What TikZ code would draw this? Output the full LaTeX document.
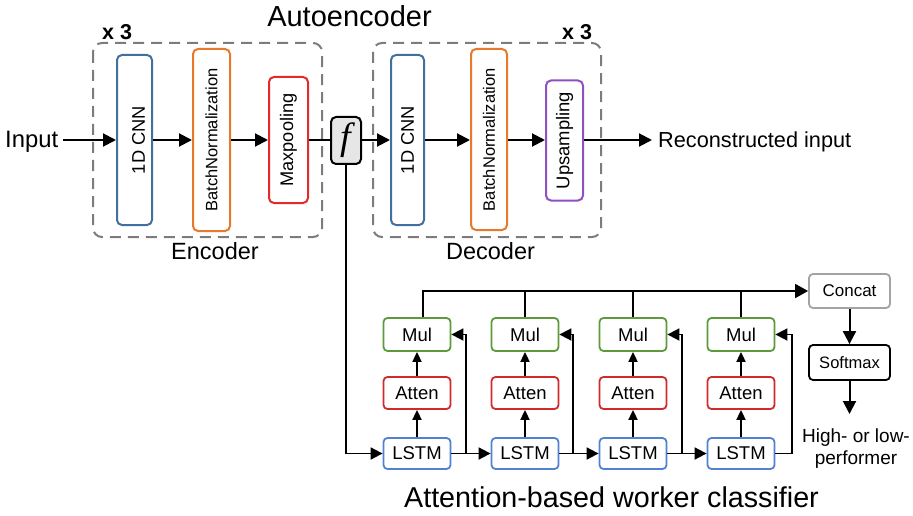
\documentclass[tikz,border=0pt]{standalone}
\usepackage{fontspec}
\setmainfont{Liberation Sans}
\newfontfamily\fnserif{Liberation Serif}
\usepackage{graphicx}
\usetikzlibrary{arrows.meta,calc}

\definecolor{cnnblue}{HTML}{41709F}
\definecolor{bnorange}{HTML}{E8792B}
\definecolor{mpred}{HTML}{E52A2C}
\definecolor{uppurple}{HTML}{9150C2}
\definecolor{mulgreen}{HTML}{5C9A3C}
\definecolor{attred}{HTML}{CF2B2B}
\definecolor{lstmblue}{HTML}{5282CF}
\definecolor{concatgray}{HTML}{A3A3A3}
\definecolor{dashgray}{HTML}{7C7C7C}
\definecolor{fgray}{HTML}{E6E6E6}

\newcommand{\fs}[1]{\fontsize{#1}{#1}\selectfont}

\begin{document}
\begin{tikzpicture}[x=1pt,y=-1pt,
  layer/.style={draw, line width=2pt, rounded corners=5pt, inner sep=0pt, fill=white},
  cell/.style={draw, line width=1.8pt, rounded corners=4pt, minimum width=67pt,
    inner sep=0pt, fill=white, font=\fs{18.5}},
  arr/.style={line width=2pt, -{Triangle[length=13pt,width=13pt]}},
  harr/.style={line width=1.8pt, -{Triangle[length=12pt,width=12pt]}},
  varr/.style={line width=1.8pt, -{Triangle[length=10pt,width=9pt]}},
  wire/.style={line width=1.8pt},
  group/.style={draw=dashgray, line width=2pt, dash pattern=on 11pt off 7pt, rounded corners=9pt},
  lbl/.style={inner sep=0pt, anchor=base}
]
\useasboundingbox (0,0) rectangle (913,516);

% ---------- autoencoder ----------
\node[lbl, font=\fs{29}] (title) at (349.5,27) {Autoencoder};

\draw[group] (93,43) rectangle (322,237);
\draw[group] (373,43) rectangle (601,237);
\node[lbl, anchor=base west, font=\fs{21.5}\bfseries] (rep1) at (102,40) {x 3};
\node[lbl, anchor=base west, font=\fs{21.5}\bfseries] (rep2) at (562,40) {x 3};
\node[lbl, font=\fs{23.5}] (enc) at (215,259) {Encoder};
\node[lbl, font=\fs{23.5}] (dec) at (490.5,259) {Decoder};

\node[layer, draw=cnnblue, minimum width=35pt, minimum height=170pt] (cnn1) at (134.5,140)
  {\hspace*{8pt}\rotatebox{90}{\fs{18.3}1D CNN}};
\node[layer, draw=bnorange, minimum width=37pt, minimum height=182pt] (bn1) at (211.5,140)
  {\rotatebox{90}{\fs{16.5}BatchNormalization}};
\node[layer, draw=mpred, minimum width=39pt, minimum height=126pt] (mp1) at (288.5,140)
  {\rotatebox{90}{\fs{18.2}Maxpooling}};
\node[layer, draw=black, fill=fgray, minimum width=30pt, minimum height=47pt] (f) at (346,140.5)
  {\fnserif\itshape\fs{38}f};
\node[layer, draw=cnnblue, minimum width=33pt, minimum height=170pt] (cnn2) at (407.5,140)
  {\rotatebox{90}{\fs{18.3}1D CNN}};
\node[layer, draw=bnorange, minimum width=36pt, minimum height=181pt] (bn2) at (489,139.5)
  {\rotatebox{90}{\fs{16.5}BatchNormalization}};
\node[layer, draw=uppurple, minimum width=37pt, minimum height=120pt] (up) at (564.5,140.5)
  {\rotatebox{90}{\fs{18.4}Upsampling}};

\node[lbl, anchor=base west, font=\fs{23.8}] (input) at (5,148) {Input};
\node[lbl, anchor=base west, font=\fs{21.7}] (recon) at (658,148) {Reconstructed input};
\coordinate (instart) at (63,140);
\coordinate (outend) at (652,140);

\draw[arr] (instart) -- (cnn1.west |- instart);
\draw[arr] (cnn1.east |- instart) -- (bn1.west |- instart);
\draw[arr] (bn1.east |- instart) -- (mp1.west |- instart);
\draw[wire] (mp1.east |- instart) -- (f.west |- instart);
\draw[arr] (f.east |- instart) -- (cnn2.west |- instart);
\draw[arr] (cnn2.east |- instart) -- (bn2.west |- instart);
\draw[arr] (bn2.east |- instart) -- (up.west |- instart);
\draw[arr] (up.east |- outend) -- (outend);

% ---------- attention-based classifier ----------
\foreach \i/\x in {1/417,2/525,3/633,4/741}{
  \node[cell, draw=lstmblue, minimum height=31pt] (lstm\i) at (\x,453.5) {LSTM};
  \node[cell, draw=attred, minimum height=32pt] (atten\i) at (\x,393) {Atten};
  \node[cell, draw=mulgreen, minimum height=33pt] (mul\i) at (\x,334.5) {Mul};
  \draw[varr] (lstm\i.north) -- (atten\i.south);
  \draw[varr] (atten\i.north) -- (mul\i.south);
}

\node[cell, draw=concatgray, minimum width=81pt, minimum height=34pt, font=\fs{17}] (concat) at (849.5,291) {Concat};
\node[cell, draw=black, minimum width=81pt, minimum height=35pt, font=\fs{16.5}] (softmax) at (849.5,362.5) {Softmax};
\node[inner sep=0pt, anchor=north, align=center, font=\fontsize{19}{22}\selectfont] (result) at (856,429)
  {High- or low-\\performer};
\node[lbl, font=\fs{28.7}] (clsname) at (611.5,507) {Attention-based worker classifier};

% encoder code feeds the first LSTM
\draw[harr] (f.south) |- (lstm1.west);

% recurrent chain and skip into Mul
\coordinate (j1) at (466,453.5);
\coordinate (j2) at (573,453.5);
\coordinate (j3) at (682,453.5);
\coordinate (j4) at (792,453.5);
\draw[harr] (lstm1.east) -- (lstm2.west);
\draw[harr] (lstm2.east) -- (lstm3.west);
\draw[harr] (lstm3.east) -- (lstm4.west);
\draw[harr] (j1) |- (mul1.east);
\draw[harr] (j2) |- (mul2.east);
\draw[harr] (j3) |- (mul3.east);
\draw[harr] (lstm4.east) -- (j4) |- (mul4.east);

% weighted outputs gathered into Concat
\coordinate (t1) at ($(mul1.north)+(6,0)$);
\draw[line width=1.8pt, -{Triangle[length=13pt,width=14pt]}] (t1) |- (concat.west);
\draw[wire] (mul2.north) -- (mul2.north |- concat.west);
\draw[wire] (mul3.north) -- (mul3.north |- concat.west);
\draw[wire] (mul4.north) -- (mul4.north |- concat.west);

\draw[arr] (concat.south) -- (softmax.north);
\coordinate (clsout) at (849.5,414);
\draw[arr] (softmax.south) -- (clsout);
\end{tikzpicture}
\end{document}
